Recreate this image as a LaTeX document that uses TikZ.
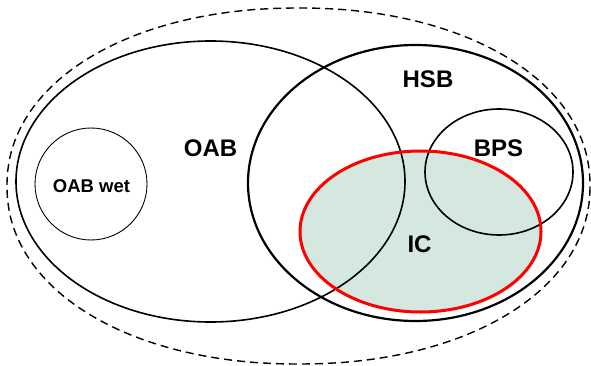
\documentclass[tikz,border=0pt]{standalone}
\usepackage{fontspec}
\setmainfont{Liberation Sans}
\definecolor{icfill}{HTML}{D5E8DF}
\definecolor{icred}{HTML}{FF0000}
\tikzset{
  lbl/.style={font=\fontsize{24}{28}\selectfont\bfseries, inner sep=0pt},
  smalllbl/.style={font=\fontsize{18.5}{22}\selectfont\bfseries, inner sep=0pt},
  setline/.style={draw=black, line width=1.6pt},
}
\begin{document}
\begin{tikzpicture}[x=1pt,y=-1pt]
\useasboundingbox (0,0) rectangle (591,366);
% IC fill
\fill[icfill] (420.5,231.5) ellipse [x radius=120.5, y radius=80.5];
% outer dashed (slightly superelliptic)
\draw[line width=1.4pt, dash pattern=on 8pt off 5pt, line join=round]
  plot[domain=0.5:359.5, samples=360, variable=\t]
  ({298.5+291.5*sign(cos(\t))*pow(abs(cos(\t)),0.952)},
   {186+178*sign(sin(\t))*pow(abs(sin(\t)),0.952)}) -- cycle;
% OAB
\draw[setline] (210.5,181.5) ellipse [x radius=194.5, y radius=140.5];
% HSB
\draw[draw=black, line width=2.2pt] (415.5,183) ellipse [x radius=167.5, y radius=138];
% BPS
\draw[setline] (499,172) ellipse [x radius=74, y radius=63];
% OAB wet
\draw[draw=black, line width=0.9pt] (91,184) circle [radius=56];
% IC outline
\draw[icred, line width=3pt] (420.5,231.5) ellipse [x radius=120.5, y radius=80.5];
% labels
\node[lbl] (oab) at (210.5,148) {OAB};
\node[lbl] (hsb) at (428,79) {HSB};
\node[lbl] (bps) at (498.5,148.5) {BPS};
\node[lbl] (ic) at (419.5,244.5) {IC};
\node[smalllbl] (oabwet) at (91.5,186) {OAB wet};
\end{tikzpicture}
\end{document}
